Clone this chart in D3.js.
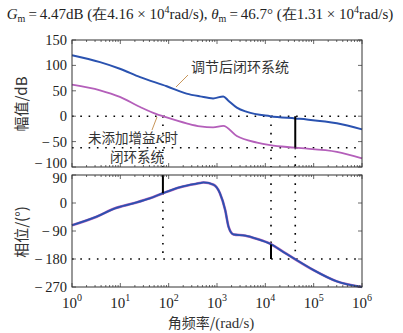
<!DOCTYPE html>
<html>
<head>
<meta charset="utf-8">
<script src="https://cdn.jsdelivr.net/npm/d3@7"></script>
<style>
  body { margin: 0; background: #fff; }
  svg { display: block; }
  .tick-label { font-family: "Liberation Serif", "Times New Roman", serif; font-size: 15px; fill: #222; }
  .cn { font-family: "Noto Sans CJK SC", sans-serif; font-size: 14px; fill: #333; }
</style>
</head>
<body>
<div id="chart"></div>
<script>
// frequencies are given as log10(rad/s)
var magBlueW = [0, 0.58, 0.99, 1.41, 1.96, 2.37, 2.65, 2.92, 3.13, 3.23, 3.41, 3.62, 4.10, 4.62, 4.86, 5.48, 6];
var magBlue  = [120, 106.5, 93.5, 77, 59, 44.5, 39, 35, 39, 31, 17, 8.5, 0, -4.5, -6.5, -14, -26];

var magPurpleW = [0, 0.58, 0.99, 1.41, 1.75, 1.88, 2.37, 2.65, 2.92, 3.13, 3.41, 3.83, 4.10, 4.62, 5.48, 6];
var magPurple  = [62, 51, 38, 18, 4, 0, -14, -20, -22, -19, -39, -52, -57, -62, -70, -83];

var phaseW = [0, 0.51, 0.89, 1.27, 1.61, 1.88, 2.24, 2.65, 2.72, 2.93, 3.06, 3.17, 3.24, 3.34, 3.59, 3.82, 4.10, 4.38, 4.62, 4.99, 5.48, 6];
var phase  = [-71.5, -44, -17, -1, 15, 31.5, 51, 64, 66, 58.5, 31.5, -23, -77, -101, -105, -115, -131, -158, -181, -215, -252, -270];

var magTicks = [150, 100, 50, 0, -50, -100];
var phaseTicks = [90, 0, -90, -180, -270];
var decades = [0, 1, 2, 3, 4, 5, 6];

// margin markers
var crossW = 76;        // 0 dB crossing of the uncompensated curve
var pmW = 1.31e4;       // phase margin frequency
var gmW = 4.16e4;       // gain margin frequency
var gmLevel = -62;      // lower dotted level in magnitude plot
var pmPhase = -133.3;
var crossPhase = 31.5;

var W = 403, H = 333;
var left = 72, right = 362;
var magTop = 40, magBottom = 167;
var phTop = 175, phBottom = 287;

var blue = "#2a52b0", purple = "#b45fba";

var svg = d3.select("#chart").append("svg")
  .attr("width", W).attr("height", H);

var x = d3.scaleLog().domain([1, 1e6]).range([left, right]);
var yMag = d3.scaleLinear().domain([-100, 150]).range([magBottom, magTop]);
var yPh = d3.scaleLinear().domain([-270, 90]).range([phBottom, phTop]);

// title
var title = svg.append("text")
  .attr("class", "tick-label")
  .attr("x", 200).attr("y", 19)
  .attr("text-anchor", "middle")
  .style("font-size", "15px");
title.append("tspan").attr("font-style", "italic").text("G");
title.append("tspan").attr("dy", 3).style("font-size", "10px").text("m");
title.append("tspan").attr("dy", -3).text("\u2009=\u20094.47dB (在4.16 × 10");
title.append("tspan").attr("dy", -6).style("font-size", "10px").text("4");
title.append("tspan").attr("dy", 6).text("rad/s), ");
title.append("tspan").attr("font-style", "italic").text("θ");
title.append("tspan").attr("dy", 3).style("font-size", "10px").text("m");
title.append("tspan").attr("dy", -3).text("\u2009=\u200946.7° (在1.31 × 10");
title.append("tspan").attr("dy", -6).style("font-size", "10px").text("4");
title.append("tspan").attr("dy", 6).text("rad/s)");

function fmt(v) {
  return v < 0 ? "\u2212\u2009" + Math.abs(v) : String(v);
}

function dotted(g, x1, y1, x2, y2) {
  g.append("line")
    .attr("x1", x1).attr("y1", y1).attr("x2", x2).attr("y2", y2)
    .attr("stroke", "#000").attr("stroke-width", 1.6)
    .attr("stroke-dasharray", "1.6,6.7");
}

function frame(top, bottom, y, ticks, nudge) {
  var g = svg.append("g");
  // minor and major log ticks on top and bottom
  decades.forEach(function(d) {
    if (d < 6) {
      for (var k = 2; k <= 9; k++) {
        var xx = x(k * Math.pow(10, d));
        g.append("line").attr("x1", xx).attr("x2", xx).attr("y1", bottom).attr("y2", bottom - 2)
          .attr("stroke", "#444").attr("stroke-width", 0.8);
        g.append("line").attr("x1", xx).attr("x2", xx).attr("y1", top).attr("y2", top + 2)
          .attr("stroke", "#444").attr("stroke-width", 0.8);
      }
    }
    var xm = x(Math.pow(10, d));
    g.append("line").attr("x1", xm).attr("x2", xm).attr("y1", bottom).attr("y2", bottom - 4)
      .attr("stroke", "#444").attr("stroke-width", 0.8);
    g.append("line").attr("x1", xm).attr("x2", xm).attr("y1", top).attr("y2", top + 4)
      .attr("stroke", "#444").attr("stroke-width", 0.8);
  });
  ticks.forEach(function(t, i) {
    var yy = y(t);
    g.append("line").attr("x1", left).attr("x2", left + 4).attr("y1", yy).attr("y2", yy)
      .attr("stroke", "#444").attr("stroke-width", 0.8);
    g.append("line").attr("x1", right).attr("x2", right - 4).attr("y1", yy).attr("y2", yy)
      .attr("stroke", "#444").attr("stroke-width", 0.8);
    g.append("text").attr("class", "tick-label")
      .attr("x", left - 5).attr("y", yy + 5 + (nudge[i] || 0))
      .attr("text-anchor", "end")
      .style("font-size", "14.5px")
      .text(fmt(t));
  });
  g.append("rect")
    .attr("x", left).attr("y", top)
    .attr("width", right - left).attr("height", bottom - top)
    .attr("fill", "none").attr("stroke", "#333").attr("stroke-width", 1);
  return g;
}

// ----- magnitude panel -----
var gMag = svg.append("g");
dotted(gMag, left, yMag(0), right, yMag(0));
dotted(gMag, left, yMag(gmLevel), right, yMag(gmLevel));
dotted(gMag, x(crossW), yMag(0), x(crossW), magBottom);
dotted(gMag, x(pmW), yMag(0), x(pmW), magBottom);
dotted(gMag, x(gmW), yMag(gmLevel), x(gmW), magBottom);

var lineMagB = d3.line()
  .x(function(d, i) { return x(Math.pow(10, magBlueW[i])); })
  .y(function(d) { return yMag(d); })
  .curve(d3.curveMonotoneX);
var lineMagP = d3.line()
  .x(function(d, i) { return x(Math.pow(10, magPurpleW[i])); })
  .y(function(d) { return yMag(d); })
  .curve(d3.curveMonotoneX);

gMag.append("path").datum(magPurple).attr("d", lineMagP)
  .attr("fill", "none").attr("stroke", purple).attr("stroke-width", 1.8);
gMag.append("path").datum(magBlue).attr("d", lineMagB)
  .attr("fill", "none").attr("stroke", blue).attr("stroke-width", 2);

gMag.append("line")
  .attr("x1", x(gmW)).attr("x2", x(gmW))
  .attr("y1", yMag(0)).attr("y2", yMag(gmLevel))
  .attr("stroke", "#000").attr("stroke-width", 2);

frame(magTop, magBottom, yMag, magTicks, [0, 0, 0, 0, 0, -4]);

// annotations
svg.append("line").attr("x1", 176).attr("y1", 87).attr("x2", 188).attr("y2", 75)
  .attr("stroke", "#c8965a").attr("stroke-width", 1);
svg.append("text").attr("class", "cn").attr("x", 191).attr("y", 72).text("调节后闭环系统");

svg.append("line").attr("x1", 152).attr("y1", 130).attr("x2", 157).attr("y2", 117)
  .attr("stroke", "#c8965a").attr("stroke-width", 1);
var t1 = svg.append("text").attr("class", "cn").attr("x", 88).attr("y", 143)
  .style("font-size", "13.5px");
t1.append("tspan").text("未添加增益");
t1.append("tspan").attr("font-family", "Liberation Serif").attr("font-style", "italic").text("K");
t1.append("tspan").text("时");
svg.append("text").attr("class", "cn").attr("x", 110).attr("y", 162)
  .style("font-size", "13.5px").text("闭环系统");

// ----- phase panel -----
var gPh = svg.append("g");
dotted(gPh, left, yPh(-180), right, yPh(-180));
dotted(gPh, x(crossW), yPh(crossPhase), x(crossW), yPh(-180));
dotted(gPh, x(pmW), phTop, x(pmW), yPh(pmPhase));
dotted(gPh, x(gmW), phTop, x(gmW), yPh(-180));

var linePh = d3.line()
  .x(function(d, i) { return x(Math.pow(10, phaseW[i])); })
  .y(function(d) { return yPh(d); })
  .curve(d3.curveMonotoneX);

gPh.append("path").datum(phase).attr("d", linePh)
  .attr("fill", "none").attr("stroke", purple).attr("stroke-width", 2.6);
gPh.append("path").datum(phase).attr("d", linePh)
  .attr("fill", "none").attr("stroke", blue).attr("stroke-width", 1.8);

gPh.append("line")
  .attr("x1", x(crossW)).attr("x2", x(crossW))
  .attr("y1", yPh(90)).attr("y2", yPh(crossPhase))
  .attr("stroke", "#000").attr("stroke-width", 2);
gPh.append("line")
  .attr("x1", x(pmW)).attr("x2", x(pmW))
  .attr("y1", yPh(-180)).attr("y2", yPh(pmPhase))
  .attr("stroke", "#000").attr("stroke-width", 2);

frame(phTop, phBottom, yPh, phaseTicks, [3, 0, 0, 0, 0]);

// x tick labels
decades.forEach(function(d) {
  var t = svg.append("text").attr("class", "tick-label")
    .attr("x", x(Math.pow(10, d))).attr("y", 308)
    .attr("text-anchor", "middle");
  t.append("tspan").text("10");
  t.append("tspan").attr("dy", -7).style("font-size", "10px").text(d);
});

// axis titles
var xl = svg.append("text").attr("class", "cn").attr("x", 211).attr("y", 328).attr("text-anchor", "middle");
xl.append("tspan").text("角频率/");
xl.append("tspan").attr("font-family", "Liberation Serif").style("font-size", "15px").text("(rad/s)");

svg.append("text").attr("class", "cn")
  .attr("transform", "translate(27,104) rotate(-90)")
  .attr("text-anchor", "middle").style("font-size", "15px").text("幅值/dB");
svg.append("text").attr("class", "cn")
  .attr("transform", "translate(27,232) rotate(-90)")
  .attr("text-anchor", "middle").style("font-size", "15px").text("相位/(°)");
</script>
</body>
</html>
